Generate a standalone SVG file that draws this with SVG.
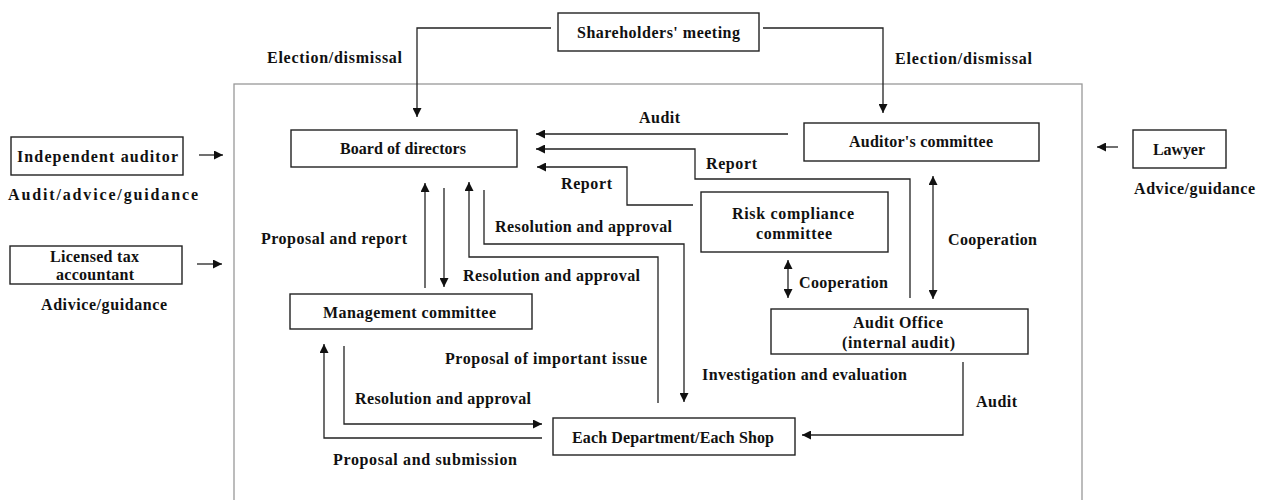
<svg xmlns="http://www.w3.org/2000/svg" width="1263" height="500" viewBox="0 0 1263 500">
<defs>
<style>
.box{fill:#fff;stroke:#222;stroke-width:1.4}
.frame{fill:none;stroke:#999;stroke-width:1.3}
.c{fill:none;stroke:#222;stroke-width:1.3}
.a{marker-end:url(#ah)}
.d{marker-start:url(#ah);marker-end:url(#ah)}
text{font-family:"Liberation Serif","Times New Roman",serif;font-weight:bold;font-size:16px;fill:#111}
</style>
<marker id="ah" viewBox="0 0 10 10" refX="10" refY="5" markerWidth="9" markerHeight="9" markerUnits="userSpaceOnUse" orient="auto-start-reverse">
<path d="M0,0 L10,5 L0,10 z" fill="#111"/>
</marker>
</defs>
<rect class="frame" x="234" y="84" width="848" height="430"/>
<g id="connectors">
<path class="c a" d="M551,28 H417 V117"/>
<path class="c a" d="M763,28 H883 V113"/>
<path class="c a" d="M199,155 H223"/>
<path class="c a" d="M197,264 H222"/>
<path class="c a" d="M1118,147 H1097"/>
<path class="c a" d="M788,134 H536"/>
<path class="c a" d="M910,298 V179 H695 V149 H536"/>
<path class="c a" d="M693,205 H627 V167 H537"/>
<path class="c a" d="M425,288 V183"/>
<path class="c a" d="M444,188 V287"/>
<path class="c a" d="M658,403 V257 H469 V182"/>
<path class="c a" d="M484,190 V244 H684 V402"/>
<path class="c d" d="M788,260 V298"/>
<path class="c d" d="M933,176 V299"/>
<path class="c a" d="M963,362 V435 H802"/>
<path class="c a" d="M344,346 V424 H542"/>
<path class="c a" d="M542,438 H324 V344"/>
</g>
<g id="shareholders">
<rect class="box" x="558" y="13" width="201" height="38"/>
<text x="577" y="38" textLength="163">Shareholders' meeting</text>
</g>
<g id="independent-auditor">
<rect class="box" x="11" y="137" width="172" height="38"/>
<text x="17" y="162" textLength="161">Independent auditor</text>
</g>
<g id="tax-accountant">
<rect class="box" x="10" y="246" width="172" height="38"/>
<text x="50" y="262" textLength="89">Licensed tax</text>
<text x="56" y="280" textLength="78">accountant</text>
</g>
<g id="board">
<rect class="box" x="291" y="130" width="226" height="37"/>
<text x="340" y="154" textLength="126">Board of directors</text>
</g>
<g id="auditors-committee">
<rect class="box" x="804" y="123" width="235" height="38"/>
<text x="849" y="147" textLength="144">Auditor's committee</text>
</g>
<g id="lawyer">
<rect class="box" x="1133" y="130" width="93" height="38"/>
<text x="1153" y="155" textLength="52">Lawyer</text>
</g>
<g id="risk-compliance">
<rect class="box" x="701" y="192" width="187" height="60"/>
<text x="732" y="219" textLength="122">Risk compliance</text>
<text x="756" y="239" textLength="76">committee</text>
</g>
<g id="management">
<rect class="box" x="290" y="294" width="242" height="35"/>
<text x="323" y="318" textLength="173">Management committee</text>
</g>
<g id="audit-office">
<rect class="box" x="771" y="309" width="257" height="45"/>
<text x="853" y="328" textLength="90">Audit Office</text>
<text x="842" y="348" textLength="113">(internal audit)</text>
</g>
<g id="department">
<rect class="box" x="553" y="418" width="242" height="37"/>
<text x="572" y="443" textLength="202">Each Department/Each Shop</text>
</g>
<g id="labels">
<text x="267" y="63" textLength="135">Election/dismissal</text>
<text x="895" y="64" textLength="137">Election/dismissal</text>
<text x="8" y="200" textLength="190">Audit/advice/guidance</text>
<text x="41" y="310" textLength="126">Adivice/guidance</text>
<text x="1134" y="194" textLength="121">Advice/guidance</text>
<text x="639" y="123" textLength="41">Audit</text>
<text x="706" y="169" textLength="51">Report</text>
<text x="561" y="189" textLength="51">Report</text>
<text x="495" y="232" textLength="177">Resolution and approval</text>
<text x="261" y="244" textLength="146">Proposal and report</text>
<text x="948" y="245" textLength="89">Cooperation</text>
<text x="463" y="281" textLength="177">Resolution and approval</text>
<text x="799" y="288" textLength="89">Cooperation</text>
<text x="445" y="364" textLength="202">Proposal of important issue</text>
<text x="702" y="380" textLength="205">Investigation and evaluation</text>
<text x="355" y="404" textLength="176">Resolution and approval</text>
<text x="976" y="407" textLength="41">Audit</text>
<text x="333" y="465" textLength="184">Proposal and submission</text>
</g>
</svg>
